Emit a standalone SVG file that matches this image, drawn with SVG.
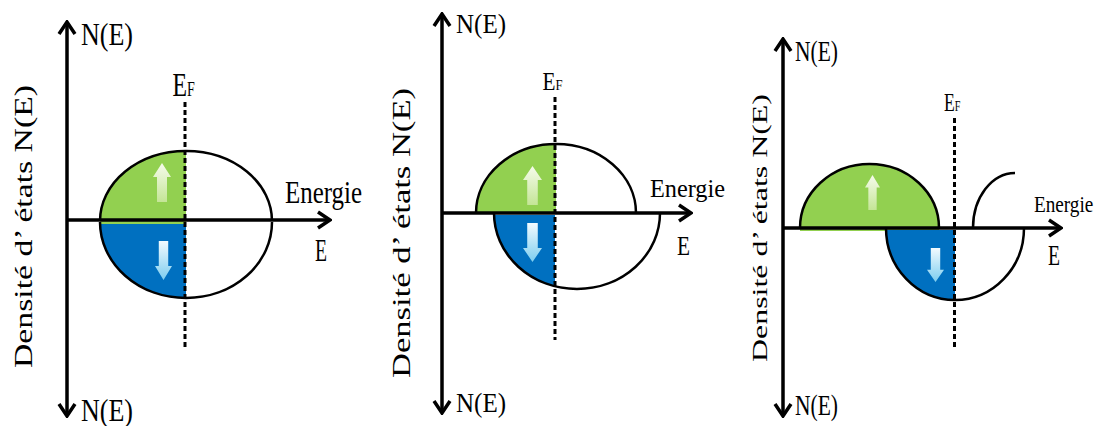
<svg xmlns="http://www.w3.org/2000/svg" width="1104" height="426" viewBox="0 0 1104 426">
<style>
  .axis{stroke:#000;stroke-width:3.5;fill:none}
  .ef{stroke:#000;stroke-width:3;stroke-dasharray:5 3;fill:none}
  .out{stroke:#000;stroke-width:2.5;fill:none}
  .green{fill:#92d050}
  .blue{fill:#0070c0}
  text{font-family:"Liberation Serif","Times New Roman",serif;fill:#000}
</style>
<defs>
  <marker id="chev" viewBox="-14 -10 16 20" markerWidth="16" markerHeight="20" refX="0" refY="0" orient="auto-start-reverse" markerUnits="userSpaceOnUse">
    <path d="M-12,-8 L0,0 L-12,8" stroke="#000" stroke-width="3.5" fill="none"/>
  </marker>
  <linearGradient id="gUp" x1="0" y1="0" x2="0" y2="1">
    <stop offset="0" stop-color="#f6fbec"/>
    <stop offset="1" stop-color="#c4e596"/>
  </linearGradient>
  <linearGradient id="gDown" x1="0" y1="0" x2="0" y2="1">
    <stop offset="0" stop-color="#f2fbff"/>
    <stop offset="1" stop-color="#7ccdef"/>
  </linearGradient>
  <symbol id="upArrow" viewBox="0 0 18 39" preserveAspectRatio="none">
    <path d="M9,0 L18,14 L14,14 L14,39 L4,39 L4,14 L0,14 Z" fill="url(#gUp)"/>
  </symbol>
  <symbol id="downArrow" viewBox="0 0 18 39" preserveAspectRatio="none">
    <path d="M4,0 L14,0 L14,25 L18,25 L9,39 L0,25 L4,25 Z" fill="url(#gDown)"/>
  </symbol>
</defs>

<rect width="1104" height="426" fill="#fff"/>

<!-- Panel 1 -->
<g id="panel1">
  <path class="green" d="M100,224 L100,221 A86,70 0 0 1 186,151 L186,224 Z"/>
  <path class="blue" d="M100,224 A86,74 0 0 0 186,298 L186,224 Z"/>
  <path class="out" d="M100,221 A86,70 0 0 1 272,221"/>
  <path class="out" d="M100,222 A86,76 0 0 0 272,222"/>
  <use href="#upArrow" x="153" y="163" width="18" height="39"/>
  <use href="#downArrow" x="155" y="241" width="17" height="39"/>
  <line class="ef" x1="185" y1="102" x2="185" y2="348"/>
  <g id="axes1">
    <line class="axis" x1="67" y1="22" x2="67" y2="416" marker-start="url(#chev)" marker-end="url(#chev)"/>
    <line class="axis" x1="66" y1="220" x2="330" y2="220" marker-end="url(#chev)"/>
  </g>
  <text x="81" y="45" font-size="31" textLength="52" lengthAdjust="spacingAndGlyphs">N(E)</text>
  <text x="81" y="421" font-size="31" textLength="52" lengthAdjust="spacingAndGlyphs">N(E)</text>
  <text transform="translate(172.5,96) scale(0.7,1)" font-size="34">E<tspan font-size="20">F</tspan></text>
  <text x="285" y="203" font-size="32" textLength="77" lengthAdjust="spacingAndGlyphs">Energie</text>
  <text x="315" y="261" font-size="32" textLength="12" lengthAdjust="spacingAndGlyphs">E</text>
  <text transform="translate(31.5,368) rotate(-90)" x="0" y="0" font-size="25" textLength="283" lengthAdjust="spacingAndGlyphs">Densité d’ états N(E)</text>
</g>

<!-- Panel 2 -->
<g id="panel2">
  <path class="green" d="M476,214 L476,213 A80,69 0 0 1 556,144 L556,214 Z"/>
  <path class="blue" d="M494,215 A83,76 0 0 0 555,286.3 L555,215 Z"/>
  <path class="out" d="M476,213 A80,69 0 0 1 636,213"/>
  <path class="out" d="M494,213 A83,76 0 0 0 660,213"/>
  <use href="#upArrow" x="523" y="166" width="19" height="39"/>
  <use href="#downArrow" x="523" y="223" width="19" height="39"/>
  <line class="ef" x1="555" y1="97" x2="555" y2="340"/>
  <g id="axes2">
    <line class="axis" x1="442" y1="14" x2="442" y2="413" marker-start="url(#chev)" marker-end="url(#chev)"/>
    <line class="axis" x1="441" y1="213" x2="691" y2="213" marker-end="url(#chev)"/>
  </g>
  <text x="456" y="33" font-size="27" textLength="50" lengthAdjust="spacingAndGlyphs">N(E)</text>
  <text x="456" y="412" font-size="28" textLength="50" lengthAdjust="spacingAndGlyphs">N(E)</text>
  <text transform="translate(542.5,90) scale(0.85,1)" font-size="25">E<tspan font-size="15">F</tspan></text>
  <text x="650" y="197" font-size="25" textLength="75" lengthAdjust="spacingAndGlyphs">Energie</text>
  <text x="677" y="255" font-size="27" textLength="13" lengthAdjust="spacingAndGlyphs">E</text>
  <text transform="translate(410,378) rotate(-90)" x="0" y="0" font-size="25" textLength="290" lengthAdjust="spacingAndGlyphs">Densité d’ états N(E)</text>
</g>

<!-- Panel 3 -->
<g id="panel3">
  <path class="green" d="M800,231 L800,228 A69.5,64 0 0 1 939,228 L939,231 Z"/>
  <path class="blue" d="M886,230 A69,70 0 0 0 955,300 L955,230 Z"/>
  <path class="out" d="M800,228 A69.5,64 0 0 1 939,228"/>
  <path class="out" d="M886,228 A69,72 0 0 0 1024,228"/>
  <path class="out" d="M973,228 A42,55 0 0 1 1015,173"/>
  <use href="#upArrow" x="865" y="175" width="15" height="35"/>
  <use href="#downArrow" x="927" y="248" width="17" height="34"/>
  <line class="ef" x1="954.5" y1="118" x2="954.5" y2="347"/>
  <g id="axes3">
    <line class="axis" x1="783" y1="39" x2="783" y2="416" marker-start="url(#chev)" marker-end="url(#chev)"/>
    <line class="axis" x1="782" y1="228" x2="1061" y2="228" marker-end="url(#chev)"/>
  </g>
  <text x="795" y="61" font-size="29" textLength="43" lengthAdjust="spacingAndGlyphs">N(E)</text>
  <text x="795" y="415" font-size="29" textLength="43" lengthAdjust="spacingAndGlyphs">N(E)</text>
  <text transform="translate(944,111) scale(0.68,1)" font-size="26">E<tspan font-size="15">F</tspan></text>
  <text transform="translate(1034,211.5) scale(0.8,1)" font-size="24">Energie</text>
  <text x="1048" y="265" font-size="30" textLength="12" lengthAdjust="spacingAndGlyphs">E</text>
  <text transform="translate(766.5,362) rotate(-90)" x="0" y="0" font-size="21" textLength="268" lengthAdjust="spacingAndGlyphs">Densité d’ états N(E)</text>
</g>
</svg>
